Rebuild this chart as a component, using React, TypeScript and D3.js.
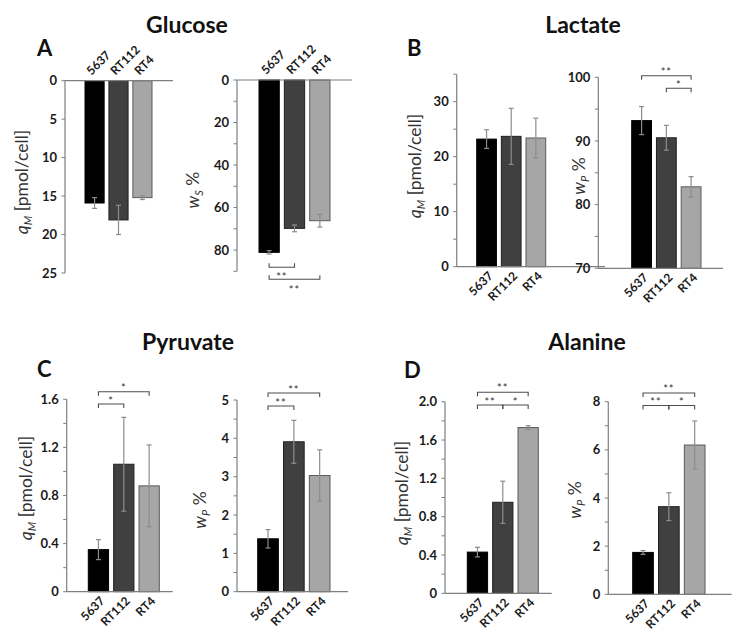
import React from "react";
import * as d3 from "d3";

const cellLines = ["5637", "RT112", "RT4"];

const glucoseQ = [15.9, 18.1, 15.2];
const glucoseQErr = [0.7, 1.9, 0.25];
const glucoseW = [81.1, 69.8, 66.2];
const glucoseWErr = [0.8, 1.6, 3.0];
const lactateQ = [23.2, 23.7, 23.4];
const lactateQErr = [1.7, 5.1, 3.6];
const lactateW = [93.2, 90.5, 82.8];
const lactateWErr = [2.2, 1.95, 1.6];
const pyruvateQ = [0.35, 1.06, 0.88];
const pyruvateQErr = [0.083, 0.39, 0.34];
const pyruvateW = [1.38, 3.91, 3.03];
const pyruvateWErr = [0.24, 0.56, 0.67];
const alanineQ = [0.43, 0.95, 1.73];
const alanineQErr = [0.05, 0.22, 0.02];
const alanineW = [1.74, 3.64, 6.2];
const alanineWErr = [0.08, 0.58, 1.0];

const glucoseQTicks = [0, 5, 10, 15, 20, 25];
const glucoseQMinor: number[] = [];
const glucoseWTicks = [0, 20, 40, 60, 80];
const glucoseWMinor = [10, 30, 50, 70, 90];
const lactateQTicks = [0, 10, 20, 30];
const lactateQMinor = [5, 15, 25, 35];
const lactateWTicks = [70, 80, 90, 100];
const lactateWMinor = [75, 85, 95];
const pyruvateQTicks = [0, 0.4, 0.8, 1.2, 1.6];
const pyruvateQMinor = [0.2, 0.6, 1.0, 1.4];
const pyruvateWTicks = [0, 1, 2, 3, 4, 5];
const pyruvateWMinor = [0.5, 1.5, 2.5, 3.5, 4.5];
const alanineQTicks = [0, 0.4, 0.8, 1.2, 1.6, 2.0];
const alanineQMinor = [0.2, 0.6, 1.0, 1.4, 1.8];
const alanineWTicks = [0, 2, 4, 6, 8];
const alanineWMinor = [1, 3, 5, 7];

const barFill = ["#000000", "#404040", "#a6a6a6"];
const barStroke = ["#000000", "#1f1f1f", "#5a5a5a"];
const FONT = "Lato, 'Open Sans', sans-serif";

type Bracket = { a: number; b: number; y: number; tick: number; label: string; ly: number };
type Sub = {
  values: number[];
  errs: number[];
  domain: [number, number];
  ticks: number[];
  minor: number[];
  fmt: (v: number) => string;
  axisX: number;
  axisEnd: number;
  barL: number;
  barR: number;
  y0: number;
  y1: number;
  top: boolean;
  ylab: { main: string; sub: string; rest: string; x: number; y: number };
  brackets: Bracket[];
};

const f0 = (v: number) => String(v);
const f1 = (v: number) => (v === 0 ? "0" : v.toFixed(1));

const subs: Sub[] = [
  {
    values: glucoseQ, errs: glucoseQErr, domain: [0, 25], ticks: glucoseQTicks, minor: glucoseQMinor, fmt: f0,
    axisX: 65, axisEnd: 173, barL: 85, barR: 152, y0: 80.7, y1: 273, top: true,
    ylab: { main: "q", sub: "M", rest: " [pmol/cell]", x: 22, y: 182 }, brackets: [],
  },
  {
    values: glucoseW, errs: glucoseWErr, domain: [0, 90], ticks: glucoseWTicks, minor: glucoseWMinor, fmt: f0,
    axisX: 237, axisEnd: 352, barL: 259, barR: 330, y0: 80, y1: 271.3, top: true,
    ylab: { main: "w", sub: "S", rest: " %", x: 193, y: 190 },
    brackets: [
      { a: 0, b: 1, y: 267.3, tick: -4, label: "**", ly: 275 },
      { a: 0, b: 2, y: 279.3, tick: -4, label: "**", ly: 288 },
    ],
  },
  {
    values: lactateQ, errs: lactateQErr, domain: [0, 35], ticks: lactateQTicks, minor: lactateQMinor, fmt: f0,
    axisX: 456.7, axisEnd: 605, barL: 476.7, barR: 545.7, y0: 266.7, y1: 74.2, top: false,
    ylab: { main: "q", sub: "M", rest: " [pmol/cell]", x: 415, y: 166 }, brackets: [],
  },
  {
    values: lactateW, errs: lactateWErr, domain: [70, 100], ticks: lactateWTicks, minor: lactateWMinor, fmt: f0,
    axisX: 598.3, axisEnd: 723, barL: 631.7, barR: 701, y0: 268.3, y1: 77.3, top: false,
    ylab: { main: "w", sub: "P", rest: " %", x: 579, y: 176 },
    brackets: [
      { a: 0, b: 2, y: 75.7, tick: 4, label: "**", ly: 70 },
      { a: 1, b: 2, y: 88.3, tick: 4, label: "*", ly: 83 },
    ],
  },
  {
    values: pyruvateQ, errs: pyruvateQErr, domain: [0, 1.6], ticks: pyruvateQTicks, minor: pyruvateQMinor, fmt: f1,
    axisX: 66.7, axisEnd: 172.7, barL: 88.3, barR: 159.3, y0: 591.7, y1: 399.3, top: false,
    ylab: { main: "q", sub: "M", rest: " [pmol/cell]", x: 26, y: 488 },
    brackets: [
      { a: 0, b: 2, y: 391.7, tick: 4, label: "*", ly: 386 },
      { a: 0, b: 1, y: 404, tick: 4, label: "*", ly: 399 },
    ],
  },
  {
    values: pyruvateW, errs: pyruvateWErr, domain: [0, 5], ticks: pyruvateWTicks, minor: pyruvateWMinor, fmt: f0,
    axisX: 237, axisEnd: 348, barL: 257.7, barR: 330, y0: 591.7, y1: 400, top: false,
    ylab: { main: "w", sub: "P", rest: " %", x: 200, y: 510 },
    brackets: [
      { a: 0, b: 2, y: 393, tick: 4, label: "**", ly: 388 },
      { a: 0, b: 1, y: 406, tick: 4, label: "**", ly: 401 },
    ],
  },
  {
    values: alanineQ, errs: alanineQErr, domain: [0, 2.0], ticks: alanineQTicks, minor: alanineQMinor, fmt: f1,
    axisX: 445, axisEnd: 551.7, barL: 467.3, barR: 538.3, y0: 593.3, y1: 401.7, top: false,
    ylab: { main: "q", sub: "M", rest: " [pmol/cell]", x: 402, y: 493 },
    brackets: [
      { a: 0, b: 2, y: 392.3, tick: 4, label: "**", ly: 386.5 },
      { a: 0, b: 1, y: 405, tick: 4, label: "**", ly: 400 },
      { a: 1, b: 2, y: 405, tick: 4, label: "*", ly: 400 },
    ],
  },
  {
    values: alanineW, errs: alanineWErr, domain: [0, 8], ticks: alanineWTicks, minor: alanineWMinor, fmt: f0,
    axisX: 608.3, axisEnd: 731.7, barL: 632.7, barR: 705, y0: 594.3, y1: 401.7, top: false,
    ylab: { main: "w", sub: "P", rest: " %", x: 575, y: 500 },
    brackets: [
      { a: 0, b: 2, y: 393, tick: 4, label: "**", ly: 387 },
      { a: 0, b: 1, y: 405.5, tick: 4, label: "**", ly: 400.5 },
      { a: 1, b: 2, y: 405.5, tick: 4, label: "*", ly: 400.5 },
    ],
  },
];

const titles = [
  { text: "Glucose", x: 187, y: 33 },
  { text: "Lactate", x: 583, y: 33 },
  { text: "Pyruvate", x: 188, y: 350 },
  { text: "Alanine", x: 587, y: 350 },
];
const letters = [
  { text: "A", x: 37, y: 56 },
  { text: "B", x: 407, y: 56 },
  { text: "C", x: 37, y: 377 },
  { text: "D", x: 404, y: 378 },
];

function SubChart({ s }: { s: Sub }) {
  const x = d3.scaleBand<string>().domain(cellLines).range([s.barL, s.barR]).paddingInner(0.2);
  const y = d3.scaleLinear().domain(s.domain).range([s.y0, s.y1]);
  const base = s.domain[0];
  const axisY = y(base);
  const axisColor = "#7f7f7f";
  const cx = (i: number) => (x(cellLines[i]) as number) + x.bandwidth() / 2;
  return (
    <g>
      {s.values.map((v, i) => {
        const ya = y(v);
        const top = Math.min(ya, axisY);
        return (
          <rect key={"b" + i} x={x(cellLines[i])} y={top} width={x.bandwidth()} height={Math.abs(ya - axisY)}
            fill={barFill[i]} stroke={barStroke[i]} strokeWidth={1} />
        );
      })}
      {s.values.map((v, i) => {
        const c = cx(i);
        const a = y(v - s.errs[i]);
        const b = y(v + s.errs[i]);
        return (
          <g key={"e" + i} stroke="#8c8c8c" strokeWidth={1.2}>
            <line x1={c} x2={c} y1={a} y2={b} />
            <line x1={c - 2.5} x2={c + 2.5} y1={a} y2={a} />
            <line x1={c - 2.5} x2={c + 2.5} y1={b} y2={b} />
          </g>
        );
      })}
      <line x1={s.axisX} x2={s.axisX} y1={y(s.domain[0])} y2={y(s.domain[1])} stroke={axisColor} strokeWidth={1.2} />
      <line x1={s.axisX} x2={s.axisEnd} y1={axisY} y2={axisY} stroke={axisColor} strokeWidth={1.2} />
      {s.ticks.concat(s.minor).map((t, i) => (
        <line key={"t" + i} x1={s.axisX - 3.5} x2={s.axisX} y1={y(t)} y2={y(t)} stroke={axisColor} strokeWidth={1} />
      ))}
      {s.ticks.map((t, i) => (
        <text key={"l" + i} x={s.axisX - 8} y={y(t)} dy="0.35em" textAnchor="end" fontFamily={FONT}
          fontWeight={700} fontSize={13} fill="#1a1a1a">{s.fmt(t)}</text>
      ))}
      {cellLines.map((c, i) =>
        s.top ? (
          <g key={"c" + i} transform={`translate(${cx(i) - 3},${axisY - 5})`}>
            <text transform="rotate(-45)" textAnchor="start"
              fontFamily={FONT} fontWeight={700} fontSize={12} fill="#1a1a1a">{c}</text>
          </g>
        ) : (
          <g key={"c" + i} transform={`translate(${cx(i) + 7},${axisY + 10})`}>
            <text transform="rotate(-45)" textAnchor="end"
              fontFamily={FONT} fontWeight={700} fontSize={12} fill="#1a1a1a">{c}</text>
          </g>
        )
      )}
      {s.brackets.map((br, i) => {
        const xa = cx(br.a);
        const xb = cx(br.b);
        return (
          <g key={"br" + i}>
            <path d={`M${xa},${br.y + br.tick}V${br.y}H${xb}V${br.y + br.tick}`} fill="none" stroke="#4d4d4d" strokeWidth={1.1} />
            <text x={(xa + xb) / 2} y={br.ly} dy="0.5em" textAnchor="middle" fontFamily={FONT} fontSize={11}
              fill="#333" letterSpacing={1}>{br.label}</text>
          </g>
        );
      })}
      <g transform={`translate(${s.ylab.x + 6},${s.ylab.y})`}>
        <text transform="rotate(-90)" textAnchor="middle" fontFamily={FONT} fontSize={17.5} fill="#333">
          <tspan fontStyle="italic">{s.ylab.main}</tspan>
          <tspan fontStyle="italic" fontSize={11} dy={4}>{s.ylab.sub}</tspan>
          <tspan dy={-4}>{s.ylab.rest}</tspan>
        </text>
      </g>
    </g>
  );
}

export default function App() {
  return (
    <svg width={750} height={636} style={{ position: "absolute", left: 0, top: 0, background: "#fff" }}>
      <rect width={750} height={636} fill="#fff" />
      {titles.map((t, i) => (
        <text key={"ti" + i} x={t.x} y={t.y} textAnchor="middle" fontFamily={FONT} fontWeight={700} fontSize={23} fill="#111">{t.text}</text>
      ))}
      {letters.map((t, i) => (
        <text key={"le" + i} x={t.x} y={t.y} fontFamily={FONT} fontWeight={700} fontSize={22} fill="#111">{t.text}</text>
      ))}
      {subs.map((s, i) => (
        <SubChart key={i} s={s} />
      ))}
    </svg>
  );
}
